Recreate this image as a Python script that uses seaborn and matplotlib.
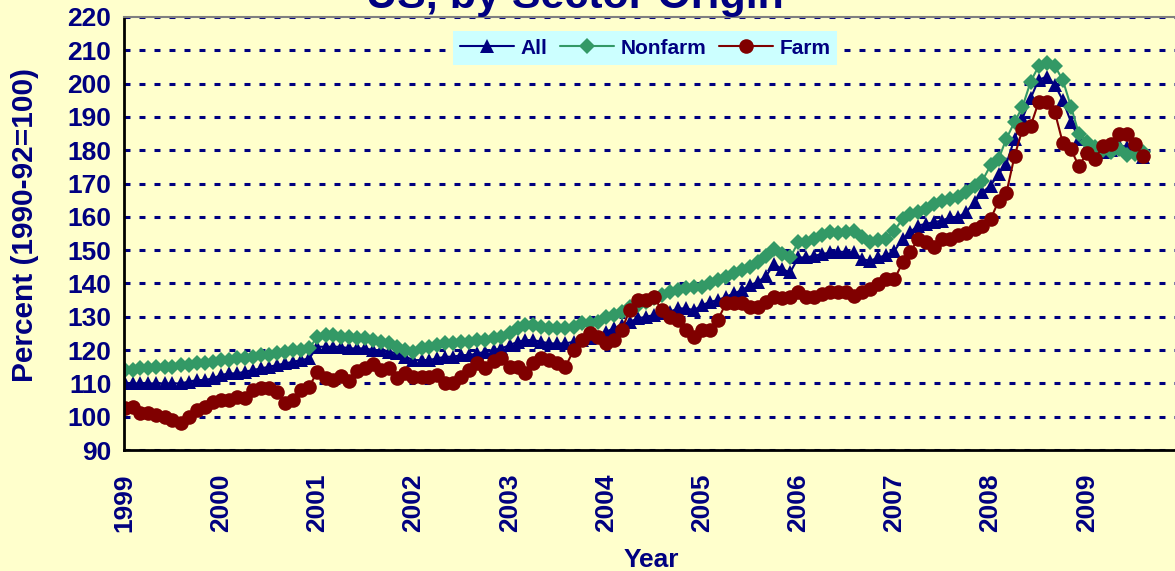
import matplotlib
matplotlib.use('Agg')
import matplotlib.pyplot as plt
import matplotlib.dates as mdates
from matplotlib.ticker import MultipleLocator
import seaborn as sns
import pandas as pd

# monthly index values, Jan 1999 - Aug 2009
months = pd.date_range('1999-01-01', periods=128, freq='MS')

all_sectors = [
    110, 110, 110, 110, 110, 110, 110, 110, 110.5, 111, 111, 111.5,
    112.5, 113, 113, 113.5, 114, 114.5, 115, 115.5, 116, 116.5, 117, 117.5,
    121, 121, 121, 121, 120.5, 120.5, 120.5, 120, 120, 119.5, 119, 118,
    117, 117, 117, 117.5, 118, 118, 118.5, 118.5, 119, 119.5, 120, 120.5,
    121.5, 122.5, 123, 123, 122.5, 122, 122, 122, 122.5, 123, 123.5, 124,
    125.5, 126.5, 127.5, 128.5, 129.5, 130, 130.5, 131, 131.5, 132.5, 132.5, 132,
    133.5, 134.5, 135, 136, 137, 138, 139.5, 140.5, 142.3, 145.8, 144.3, 143.3,
    147.8, 147.8, 148.3, 148.8, 149.3, 149.5, 149.5, 149.3, 147.3, 146.8, 147.8, 148.5,
    149.8, 153.4, 155.4, 157.4, 157.9, 158.4, 158.9, 159.9, 160, 161.5, 164.4, 167.4,
    169.4, 173, 176, 183.5, 189.6, 195.6, 201.1, 202.1, 199.6, 195, 188.5, 183.5,
    181, 180, 179.5, 180, 181.5, 181, 180.5, 178,
]

nonfarm = [
    114, 114, 114.5, 114.5, 115, 115, 115, 115.5, 115.5, 116, 116, 116.5,
    117, 117, 117.5, 117.5, 118, 118.5, 118.5, 119, 119.5, 120, 120, 120.5,
    124, 124.5, 124.5, 124, 124, 123.5, 123.5, 123, 122.5, 122, 121, 120,
    119.5, 120.5, 121, 121.5, 122, 122, 122.5, 122.5, 123, 123, 123.5, 124,
    125, 126.5, 127.5, 127.5, 127, 126.5, 126.5, 126.5, 127, 128, 128, 128.5,
    130, 130.5, 131.5, 133, 133.5, 134.5, 135.5, 136.5, 137.5, 138, 138.5, 139,
    139, 140, 141, 142, 143, 144, 145, 146.5, 148.3, 150.4, 148.8, 147.8,
    152.4, 152.4, 153.4, 154.4, 155.4, 155, 155.4, 155.9, 153.9, 152.4, 152.9, 153.4,
    155.9, 159.4, 160.9, 161.4, 162.4, 163.9, 164.9, 165.4, 166, 167.5, 169.4, 170.9,
    175.5, 177.5, 183.5, 188.5, 193, 200.6, 205.2, 206.2, 205.2, 201.1, 193.1, 185,
    182.5, 181, 180, 179.5, 180.5, 178.5, 179, 179.5,
]

farm = [
    102.5, 103, 101, 101, 100.5, 100, 99, 98, 100, 102, 103, 104.5,
    105, 105, 106, 105.5, 108, 108.5, 108.5, 107.5, 104, 105, 108, 109,
    113.5, 111.5, 111, 112.3, 110.6, 113.6, 114.6, 115.7, 114, 114.6, 111.6, 113,
    112, 112, 112, 112.6, 110, 110, 112, 114, 116, 114.6, 116.7, 117.7,
    115, 115, 113, 116, 117.5, 117, 116, 115, 120, 123, 125, 124,
    122, 123, 126, 132, 135, 135, 136, 132, 130, 129, 126, 124,
    126, 126, 129, 134, 134, 134, 133, 133, 134.5, 135.8, 135.5, 135.8,
    137.3, 135.8, 135.8, 136.8, 137.3, 137.3, 137.3, 136.3, 137.3, 138.3, 139.8, 141.3,
    141.3, 146.3, 149.3, 153.4, 152.4, 150.9, 153.4, 153.4, 154.4, 155.3, 156.3, 157.3,
    159.3, 164.9, 167.2, 178.3, 186.3, 187.3, 194.4, 194.6, 191.4, 182.2, 180.3, 175.2,
    179.3, 177.3, 181.3, 182, 185, 185, 182, 178.3,
]

series_names = ['All', 'Nonfarm', 'Farm']

navy = '#000080'
bg = '#FFFFCC'

sns.set_style('white')
plt.rcParams['font.family'] = ['Liberation Sans', 'DejaVu Sans']
plt.rcParams['font.weight'] = 'bold'
plt.rcParams['lines.scale_dashes'] = False

df = pd.DataFrame({'date': months, 'All': all_sectors,
                   'Nonfarm': nonfarm, 'Farm': farm})

fig = plt.figure(figsize=(11.75, 5.71), dpi=100, facecolor=bg)
ax = fig.add_axes([124 / 1175, 121 / 571, 1051 / 1175, 433 / 571])
ax.set_facecolor(bg)

styles = {
    'All': dict(color=navy, marker='^', markersize=10),
    'Nonfarm': dict(color='#339966', marker='D', markersize=8.5),
    'Farm': dict(color='#800000', marker='o', markersize=10.5),
}
for name in series_names:
    st = styles[name]
    sns.lineplot(data=df, x='date', y=name, ax=ax, label=name,
                 color=st['color'], marker=st['marker'],
                 markersize=st['markersize'], markeredgecolor=st['color'],
                 markeredgewidth=0, linewidth=1.5)

# axes
ax.set_ylim(90, 220)
ax.yaxis.set_major_locator(MultipleLocator(10))
ax.yaxis.set_minor_locator(MultipleLocator(5))
x0 = pd.Timestamp('1998-12-29')
ax.set_xlim(x0, x0 + pd.Timedelta(days=3990))
ax.xaxis.set_major_locator(mdates.YearLocator())
ax.xaxis.set_major_formatter(mdates.DateFormatter('%Y'))
ax.xaxis.set_minor_locator(mdates.MonthLocator())
ax.tick_params(axis='both', which='both', direction='in', color='black',
               width=1.5, length=6)
ax.tick_params(axis='y', labelsize=19, labelcolor=navy, pad=9)
ax.tick_params(axis='x', labelsize=19, labelcolor=navy, pad=17,
               labelrotation=90)

ax.grid(axis='y', which='major', color=navy, linewidth=2.2,
        linestyle=(0, (4.3, 6.5)))
ax.grid(axis='x', visible=False)

for s in ['left', 'bottom']:
    ax.spines[s].set(color='black', linewidth=2)
ax.spines['top'].set(color='#808080', linewidth=1.5)
ax.spines['right'].set_visible(False)

ax.set_xlabel('Year', fontsize=19, color=navy, fontweight='bold')
ax.xaxis.set_label_coords(0.502, -0.226)
ax.set_ylabel('Percent (1990-92=100)', fontsize=21.5, color=navy,
              fontweight='bold')
ax.yaxis.set_label_coords(-0.094, 0.52)
ax.yaxis.label.set_va('center')

fig.text(0.489, 0.986, 'US, by Sector Origin', ha='center', va='baseline',
         fontsize=31, fontweight='bold', color=navy)

leg = ax.legend(loc='upper left', bbox_to_anchor=(0.313, 0.967), ncol=3,
                frameon=True, fancybox=False, facecolor='#CCFFFF',
                edgecolor='none', framealpha=1,
                prop=dict(size=15, weight='bold'), handlelength=2.6,
                handletextpad=0.3, columnspacing=0.6, borderpad=0.35,
                borderaxespad=0)
for t in leg.get_texts():
    t.set_color(navy)

fig.savefig('out.png', dpi=100, facecolor=bg)
